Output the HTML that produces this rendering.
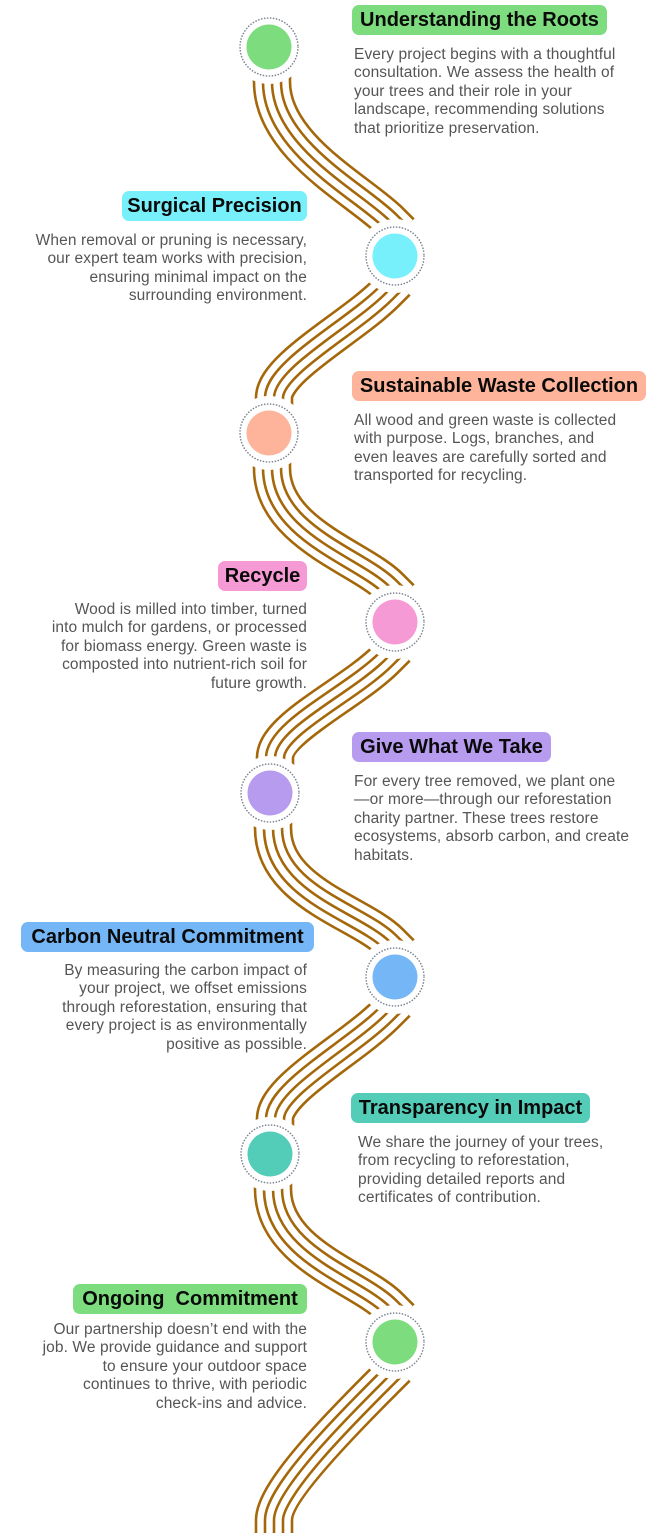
<!DOCTYPE html>
<html>
<head>
<meta charset="utf-8">
<style>
  html,body{margin:0;padding:0;background:#fff;}
  body{width:665px;height:1533px;position:relative;overflow:hidden;font-family:"Liberation Sans",Arial,sans-serif;}
  svg{position:absolute;left:0;top:0;}
  .t{position:absolute;height:30px;line-height:30px;border-radius:7px;font-weight:bold;font-size:20px;color:#0a0a0a;text-align:center;white-space:nowrap;}
  .b{position:absolute;font-size:15.5px;line-height:18.4px;letter-spacing:0.1px;color:#555;white-space:nowrap;}
  .l{left:354px;text-align:left;}
  .r{right:358px;text-align:right;}
</style>
</head>
<body>
<svg width="665" height="1533" viewBox="0 0 665 1533">
  <g fill="none" stroke-linejoin="round">
    <path stroke="#a4680a" stroke-width="38.6" d="M272,47 L272,82 C272,147 360,191 390,221 L401,232 M397,282 L386,293 C351,328 274,368 274,398 L274,433 M272,433 L272,468 C272,533 360,557 390,587 L401,598 M397,648 L386,659 C351,694 275,728 275,758 L275,793 M273,793 L273,828 C273,893 360,912 390,942 L401,953 M397,1003 L386,1014 C351,1049 275,1089 275,1119 L275,1154 M273,1154 L273,1189 C273,1254 360,1277 390,1307 L401,1318 M397,1368 L386,1379 C351,1414 274,1490 274,1520 L274,1600"/>
    <path stroke="#ffffff" stroke-width="33.4" d="M272,47 L272,82 C272,147 360,191 390,221 L401,232 M397,282 L386,293 C351,328 274,368 274,398 L274,433 M272,433 L272,468 C272,533 360,557 390,587 L401,598 M397,648 L386,659 C351,694 275,728 275,758 L275,793 M273,793 L273,828 C273,893 360,912 390,942 L401,953 M397,1003 L386,1014 C351,1049 275,1089 275,1119 L275,1154 M273,1154 L273,1189 C273,1254 360,1277 390,1307 L401,1318 M397,1368 L386,1379 C351,1414 274,1490 274,1520 L274,1600"/>
    <path stroke="#a4680a" stroke-width="20.6" d="M272,47 L272,82 C272,147 360,191 390,221 L401,232 M397,282 L386,293 C351,328 274,368 274,398 L274,433 M272,433 L272,468 C272,533 360,557 390,587 L401,598 M397,648 L386,659 C351,694 275,728 275,758 L275,793 M273,793 L273,828 C273,893 360,912 390,942 L401,953 M397,1003 L386,1014 C351,1049 275,1089 275,1119 L275,1154 M273,1154 L273,1189 C273,1254 360,1277 390,1307 L401,1318 M397,1368 L386,1379 C351,1414 274,1490 274,1520 L274,1600"/>
    <path stroke="#ffffff" stroke-width="15.4" d="M272,47 L272,82 C272,147 360,191 390,221 L401,232 M397,282 L386,293 C351,328 274,368 274,398 L274,433 M272,433 L272,468 C272,533 360,557 390,587 L401,598 M397,648 L386,659 C351,694 275,728 275,758 L275,793 M273,793 L273,828 C273,893 360,912 390,942 L401,953 M397,1003 L386,1014 C351,1049 275,1089 275,1119 L275,1154 M273,1154 L273,1189 C273,1254 360,1277 390,1307 L401,1318 M397,1368 L386,1379 C351,1414 274,1490 274,1520 L274,1600"/>
    <path stroke="#a4680a" stroke-width="2.6" d="M272,47 L272,82 C272,147 360,191 390,221 L401,232 M397,282 L386,293 C351,328 274,368 274,398 L274,433 M272,433 L272,468 C272,533 360,557 390,587 L401,598 M397,648 L386,659 C351,694 275,728 275,758 L275,793 M273,793 L273,828 C273,893 360,912 390,942 L401,953 M397,1003 L386,1014 C351,1049 275,1089 275,1119 L275,1154 M273,1154 L273,1189 C273,1254 360,1277 390,1307 L401,1318 M397,1368 L386,1379 C351,1414 274,1490 274,1520 L274,1600"/>
  </g>

  <g fill="#fff">
    <circle cx="269" cy="47" r="37"/>
    <circle cx="395" cy="256" r="37"/>
    <circle cx="269" cy="433" r="37"/>
    <circle cx="395" cy="622" r="37"/>
    <circle cx="270" cy="793" r="37"/>
    <circle cx="395" cy="977" r="37"/>
    <circle cx="270" cy="1154" r="37"/>
    <circle cx="395" cy="1342" r="37"/>
  </g>
  <g fill="none" stroke="#7d8591" stroke-width="1.6" stroke-linecap="round" stroke-dasharray="0.1 2.9">
    <circle cx="269" cy="47" r="29"/>
    <circle cx="395" cy="256" r="29"/>
    <circle cx="269" cy="433" r="29"/>
    <circle cx="395" cy="622" r="29"/>
    <circle cx="270" cy="793" r="29"/>
    <circle cx="395" cy="977" r="29"/>
    <circle cx="270" cy="1154" r="29"/>
    <circle cx="395" cy="1342" r="29"/>
  </g>
  <circle cx="269" cy="47" r="22.5" fill="#7ddc7e"/>
  <circle cx="395" cy="256" r="22.5" fill="#78f0fb"/>
  <circle cx="269" cy="433" r="22.5" fill="#feb49b"/>
  <circle cx="395" cy="622" r="22.5" fill="#f59ad4"/>
  <circle cx="270" cy="793" r="22.5" fill="#b69bee"/>
  <circle cx="395" cy="977" r="22.5" fill="#75b6f6"/>
  <circle cx="270" cy="1154" r="22.5" fill="#54cdb8"/>
  <circle cx="395" cy="1342" r="22.5" fill="#7ddc7e"/>
</svg>

<div class="t" style="left:352px;top:5px;width:255px;background:#7ddc7e;">Understanding the Roots</div>
<div class="b l" style="top:46px;">Every project begins with a thoughtful<br>consultation. We assess the health of<br>your trees and their role in your<br>landscape, recommending solutions<br>that prioritize preservation.</div>

<div class="t" style="left:122px;top:191px;width:185px;background:#78f0fb;">Surgical Precision</div>
<div class="b r" style="top:232px;">When removal or pruning is necessary,<br>our expert team works with precision,<br>ensuring minimal impact on the<br>surrounding environment.</div>

<div class="t" style="left:352px;top:371px;width:294px;background:#feb49b;">Sustainable Waste Collection</div>
<div class="b l" style="top:412px;">All wood and green waste is collected<br>with purpose. Logs, branches, and<br>even leaves are carefully sorted and<br>transported for recycling.</div>

<div class="t" style="left:218px;top:561px;width:89px;background:#f59ad4;">Recycle</div>
<div class="b r" style="top:601px;">Wood is milled into timber, turned<br>into mulch for gardens, or processed<br>for biomass energy. Green waste is<br>composted into nutrient-rich soil for<br>future growth.</div>

<div class="t" style="left:352px;top:732px;width:199px;background:#b69bee;">Give What We Take</div>
<div class="b l" style="top:773px;">For every tree removed, we plant one<br>—or more—through our reforestation<br>charity partner. These trees restore<br>ecosystems, absorb carbon, and create<br>habitats.</div>

<div class="t" style="left:21px;top:922px;width:293px;background:#75b6f6;">Carbon Neutral Commitment</div>
<div class="b r" style="top:962px;">By measuring the carbon impact of<br>your project, we offset emissions<br>through reforestation, ensuring that<br>every project is as environmentally<br>positive as possible.</div>

<div class="t" style="left:351px;top:1093px;width:239px;background:#54cdb8;">Transparency in Impact</div>
<div class="b" style="left:358px;top:1134px;">We share the journey of your trees,<br>from recycling to reforestation,<br>providing detailed reports and<br>certificates of contribution.</div>

<div class="t" style="left:73px;top:1284px;width:234px;background:#7ddc7e;">Ongoing&nbsp; Commitment</div>
<div class="b r" style="top:1321px;">Our partnership doesn’t end with the<br>job. We provide guidance and support<br>to ensure your outdoor space<br>continues to thrive, with periodic<br>check-ins and advice.</div>
</body>
</html>
